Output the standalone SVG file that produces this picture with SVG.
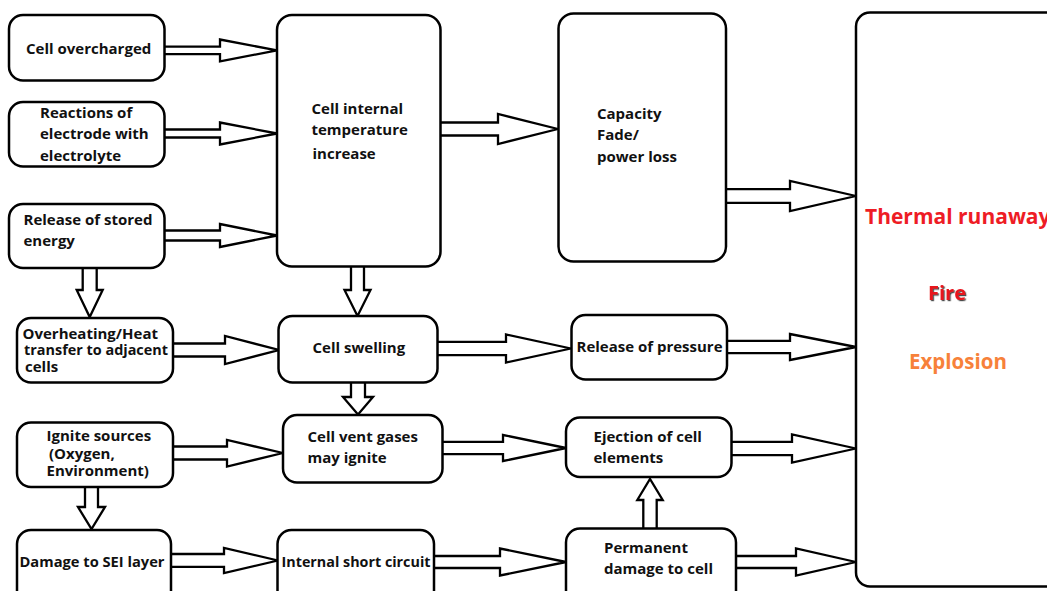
<svg xmlns="http://www.w3.org/2000/svg" width="1047" height="591" viewBox="0 0 1047 591">
<defs>
<style>
.box{fill:#fff;stroke:#000;stroke-width:2.5}
.t{font-family:"Open Sans","Noto Sans","Liberation Sans",sans-serif;font-weight:700;font-size:15px;fill:#111}
.arr{fill:#fff;stroke:#000;stroke-width:2.3;stroke-linejoin:miter}
.big{font-family:"Open Sans","Noto Sans","Liberation Sans",sans-serif;font-weight:700}
</style>
<filter id="shadow" x="-20%" y="-20%" width="150%" height="150%">
<feDropShadow dx="1.2" dy="1.2" stdDeviation="0.4" flood-color="#222" flood-opacity="0.8"/>
</filter>
</defs>
<rect width="1047" height="591" fill="#fff"/>

<g id="connectors">
<!-- horizontal arrows: x0,xb,x1,c,h,H -->
<path class="arr" d="M164,46.7 H220 V39.5 L277,50.4 L220,61.3 V54.1 H164"/>
<path class="arr" d="M164,129.5 H220 V122.5 L277,133.5 L220,144.5 V137.5 H164"/>
<path class="arr" d="M164,230.5 H220 V224 L277,235.5 L220,247 V240.5 H164"/>
<path class="arr" d="M173,343.5 H225 V336 L279,350 L225,364 V356.5 H173"/>
<path class="arr" d="M173,446.5 H227 V440 L283,453 L227,466.5 V459.5 H173"/>
<path class="arr" d="M171,554 H224 V548 L278,560.5 L224,573 V566.8 H171"/>
<path class="arr" d="M440,122.5 H498 V114 L558,129 L498,144 V135.5 H440"/>
<path class="arr" d="M726,189.2 H790 V181 L856,196 L790,211 V202.8 H726"/>
<path class="arr" d="M438,341.8 H506 V334.5 L571,348.5 L506,362.5 V355.2 H438"/>
<path class="arr" d="M442,441.8 H503 V435 L566,448 L503,461 V454.2 H442"/>
<path class="arr" d="M434,556 H500 V548.5 L566,562 L500,575.5 V568 H434"/>
<path class="arr" d="M727,340.8 H790 V334 L856,347 L790,360 V353.2 H727"/>
<path class="arr" d="M731,441.8 H792 V434.5 L856,448.5 L792,462.5 V455.2 H731"/>
<path class="arr" d="M737,556 H796 V548.5 L856,562 L796,575.5 V568 H737"/>
<!-- vertical arrows -->
<path class="arr" d="M82.7,268 V290 H76.7 L89.7,317 L102.7,290 H96.7 V268"/>
<path class="arr" d="M85,486 V507 H78 L91.5,529 L105,507 H98 V486"/>
<path class="arr" d="M351,266 V290 H344.5 L357.5,316 L370.5,290 H364 V266"/>
<path class="arr" d="M351,382.5 V397 H343 L358,414.5 L373,397 H365 V382.5"/>
<path class="arr" d="M643.3,528.5 V500 H637.3 L650,479 L662.7,500 H656.7 V528.5"/>
</g>

<g id="n-overcharged">
<rect class="box" x="9" y="15" width="155.5" height="65.5" rx="14"/>
<text class="t" x="26" y="53.5">Cell overcharged</text>
</g>
<g id="n-reactions">
<rect class="box" x="9" y="102" width="155.5" height="64.5" rx="14"/>
<text class="t" x="40" y="117.5">Reactions of</text>
<text class="t" x="40" y="139">electrode with</text>
<text class="t" x="40" y="160.5">electrolyte</text>
</g>
<g id="n-stored">
<rect class="box" x="9" y="204" width="155.5" height="64" rx="14"/>
<text class="t" x="23.5" y="225">Release of stored</text>
<text class="t" x="23.5" y="245.5">energy</text>
</g>
<g id="n-overheating">
<rect class="box" x="17" y="318" width="156" height="64.5" rx="14"/>
<text class="t" x="22.5" y="338.5">Overheating/Heat</text>
<text class="t" x="24" y="354.5" textLength="144" lengthAdjust="spacingAndGlyphs">transfer to adjacent</text>
<text class="t" x="25" y="371.5">cells</text>
</g>
<g id="n-ignite">
<rect class="box" x="17" y="422.5" width="156" height="64.5" rx="14"/>
<text class="t" x="46.5" y="440.5">Ignite sources</text>
<text class="t" x="49" y="458.5">(Oxygen,</text>
<text class="t" x="46.5" y="476">Environment)</text>
</g>
<g id="n-sei">
<rect class="box" x="17" y="530" width="154" height="80" rx="14"/>
<text class="t" x="19.5" y="567" textLength="145" lengthAdjust="spacingAndGlyphs">Damage to SEI layer</text>
</g>
<g id="n-temp">
<rect class="box" x="277" y="15" width="163.5" height="251.5" rx="15"/>
<text class="t" x="311.5" y="113.5">Cell internal</text>
<text class="t" x="311.5" y="135">temperature</text>
<text class="t" x="312.5" y="158.5">increase</text>
</g>
<g id="n-capacity">
<rect class="box" x="558.5" y="13.5" width="167.5" height="248" rx="15"/>
<text class="t" x="597" y="118.5">Capacity</text>
<text class="t" x="597" y="140">Fade/</text>
<text class="t" x="597" y="162">power loss</text>
</g>
<g id="n-thermal">
<rect class="box" x="856" y="12.5" width="220" height="574" rx="14"/>
<text class="big" x="865" y="223.5" font-size="21" fill="#ee1c25">Thermal runaway</text>
<text class="big" x="928" y="300" font-size="20" fill="#e8141c" filter="url(#shadow)">Fire</text>
<text class="big" x="909" y="368.5" font-size="20.5" fill="#f7813a">Explosion</text>
</g>
<g id="n-swelling">
<rect class="box" x="278.5" y="316" width="159" height="66.5" rx="14"/>
<text class="t" x="312.5" y="352.5">Cell swelling</text>
</g>
<g id="n-vent">
<rect class="box" x="283" y="415" width="159.5" height="67.5" rx="14"/>
<text class="t" x="307.5" y="441.5">Cell vent gases</text>
<text class="t" x="307.5" y="462.5">may ignite</text>
</g>
<g id="n-short">
<rect class="box" x="277.5" y="530" width="156.5" height="80" rx="14"/>
<text class="t" x="281.5" y="566.5" textLength="149" lengthAdjust="spacingAndGlyphs">Internal short circuit</text>
</g>
<g id="n-pressure">
<rect class="box" x="571.5" y="315" width="155.5" height="64.5" rx="14"/>
<text class="t" x="576.5" y="351.5" textLength="146" lengthAdjust="spacingAndGlyphs">Release of pressure</text>
</g>
<g id="n-ejection">
<rect class="box" x="566" y="417.5" width="165.5" height="59.5" rx="14"/>
<text class="t" x="593.5" y="441.5">Ejection of cell</text>
<text class="t" x="593.5" y="462.5">elements</text>
</g>
<g id="n-permanent">
<rect class="box" x="566" y="528.5" width="170" height="80" rx="14"/>
<text class="t" x="604" y="552.5">Permanent</text>
<text class="t" x="604" y="574">damage to cell</text>
</g>
</svg>
